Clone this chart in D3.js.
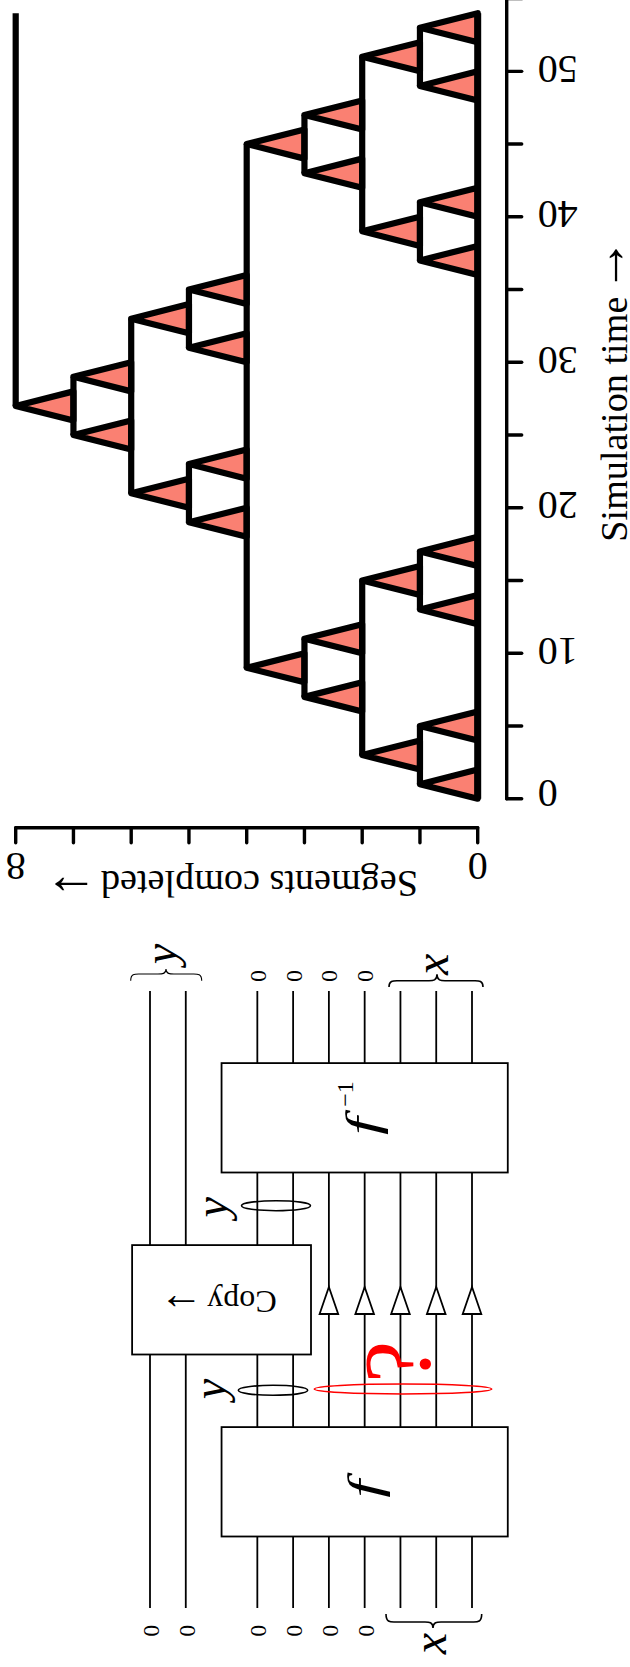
<!DOCTYPE html>
<html>
<head>
<meta charset="utf-8">
<script src="https://cdn.jsdelivr.net/npm/d3@7"></script>
<style>
  html, body { margin: 0; padding: 0; background: #fff; }
  svg { display: block; }
  text { font-family: "Liberation Serif", serif; fill: #000; }
</style>
</head>
<body>
<div id="chart"></div>
<script>
'use strict';

// pebble game: each entry is a triangle [segment reached, time of apex]
var apexSegments = [1, 1, 1, 1, 1, 1, 1, 1, 2, 2, 2, 2, 3, 3, 3, 3, 4, 4, 5, 5, 5, 5, 6, 6, 7, 7, 8];
var apexTimes = [1, 5, 13, 17, 37, 41, 49, 53, 3, 15, 39, 51, 7, 11, 43, 47, 9, 45, 19, 23, 31, 35, 21, 33, 25, 29, 27];

// how long each segment stays stored
var holdSegments = [0, 1, 1, 1, 1, 2, 2, 3, 3, 4, 5, 5, 6, 7, 8];
var holdStart = [0, 1, 13, 37, 49, 3, 39, 7, 43, 9, 19, 31, 21, 25, 27];
var holdEnd = [54, 5, 17, 41, 53, 15, 51, 11, 47, 45, 23, 35, 33, 29, 54];

var timeTicks = [0, 5, 10, 15, 20, 25, 30, 35, 40, 45, 50, 55];
var timeLabels = [0, 10, 20, 30, 40, 50];
var segmentTicks = [0, 1, 2, 3, 4, 5, 6, 7, 8];
var segmentLabels = [0, 8];

// circuit: wire slots, the slot 2 is the gap between the y wires and the rest
var wireSlots = [0, 1, 3, 4, 5, 6, 7, 8, 9];
var arrowSlots = [5, 6, 7, 8, 9];
var zeroTop = [3, 4, 5, 6];
var zeroBottom = [0, 1, 3, 4, 5, 6];
var gateNames = ['f', 'Copy', 'f'];
var gateFrom = [2, -0.5, 2];
var gateTo = [10, 4.5, 10];

var width = 630,
    height = 1667;

var svg = d3.select('#chart').append('svg')
    .attr('width', width)
    .attr('height', height);

svg.append('rect').attr('width', width).attr('height', height).attr('fill', '#fff');

var xScale = d3.scaleLinear().domain([0, 8]).range([477.7, 15.7]);
var yScale = d3.scaleLinear().domain([0, 55]).range([798.7, -1.4]);

var chart = svg.append('g');

var triangles = d3.range(apexTimes.length).map(function (i) {
    return { seg: apexSegments[i], t: apexTimes[i] };
});

chart.selectAll('.tri').data(triangles).enter().append('polygon')
    .attr('class', 'tri')
    .attr('points', function (d) {
        return [[xScale(d.seg), yScale(d.t)], [xScale(d.seg - 1), yScale(d.t - 1)], [xScale(d.seg - 1), yScale(d.t + 1)]].join(' ');
    })
    .attr('fill', '#fa8072')
    .attr('stroke', '#000')
    .attr('stroke-width', 6.2)
    .attr('stroke-linejoin', 'round');

chart.selectAll('.hold').data(holdSegments).enter().append('line')
    .attr('class', 'hold')
    .attr('x1', function (d) { return xScale(d); })
    .attr('x2', function (d) { return xScale(d); })
    .attr('y1', function (d, i) { return yScale(holdStart[i]); })
    .attr('y2', function (d, i) { return yScale(holdEnd[i]); })
    .attr('stroke', '#000')
    .attr('stroke-width', function (d) { return d === 0 ? 7 : 6.2; });

// axes
var yAxis = d3.axisRight(yScale).tickValues(timeTicks).tickSize(15).tickSizeOuter(0).offset(0)
    .tickFormat(function (d) { return timeLabels.includes(d) ? d : ''; });
var yG = svg.append('g').attr('transform', 'translate(506.7,0)').call(yAxis);

var xAxis = d3.axisBottom(xScale).tickValues(segmentTicks).tickSize(15).tickSizeOuter(0).offset(0)
    .tickFormat(function (d) { return segmentLabels.includes(d) ? d : ''; });
var xG = svg.append('g').attr('transform', 'translate(0,827.7)').call(xAxis);

[yG, xG].forEach(function (g) {
    g.selectAll('path, line').attr('stroke', '#000').attr('stroke-width', 3.4).attr('stroke-linecap', 'round');
    g.selectAll('text').attr('font-family', '"Liberation Serif", serif').attr('font-size', 40).attr('fill', '#000').attr('dy', null);
});

yG.selectAll('.tick text')
    .attr('x', null).attr('y', null)
    .attr('text-anchor', 'end')
    .attr('transform', function (d) {
        return 'translate(31,' + (d === 0 ? -18.7 : -15.7) + ') rotate(180)';
    });

xG.selectAll('.tick text')
    .attr('x', null).attr('y', null)
    .attr('text-anchor', 'middle')
    .attr('transform', 'translate(0,25.3) rotate(180)');

function rotated(g, str, x, y, angle, size, anchor, style, stretch) {
    return g.append('text')
        .attr('transform', 'translate(' + x + ',' + y + ') rotate(' + angle + ')' + (stretch ? ' scale(' + stretch + ',1)' : ''))
        .attr('text-anchor', anchor)
        .attr('font-size', size)
        .attr('font-style', style || null)
        .text(str);
}

// axis titles, the arrow comes out small in this font so it gets its own size
rotated(svg, 'Segments completed', 418, 871, 180, 38.2, 'start');
rotated(svg, '\u2192', 44.3, 874.7, 180, 54, 'end');
rotated(svg, 'Simulation time', 626.7, 541.7, -90, 38.2, 'start');
rotated(svg, '\u2192', 625.3, 238.3, -90, 54, 'end');

// circuit
var wireScale = d3.scaleLinear().domain([0, 9]).range([150, 472]);
var layerScale = d3.scaleLinear().domain([0, 2]).range([1481.8, 1117.8]);
var gateHalf = 54.7;
var wireTop = 991,
    wireBottom = 1608;

var circuit = svg.append('g');

circuit.selectAll('.wire').data(wireSlots).enter().append('line')
    .attr('class', 'wire')
    .attr('x1', function (d) { return wireScale(d); })
    .attr('x2', function (d) { return wireScale(d); })
    .attr('y1', wireTop)
    .attr('y2', wireBottom)
    .attr('stroke', '#000')
    .attr('stroke-width', 1.8);

circuit.selectAll('.gate').data(gateNames).enter().append('rect')
    .attr('class', 'gate')
    .attr('x', function (d, i) { return wireScale(gateFrom[i]); })
    .attr('width', function (d, i) { return wireScale(gateTo[i]) - wireScale(gateFrom[i]); })
    .attr('y', function (d, i) { return layerScale(i) - gateHalf; })
    .attr('height', gateHalf * 2)
    .attr('fill', '#fff')
    .attr('stroke', '#000')
    .attr('stroke-width', 1.8);

circuit.selectAll('.head').data(arrowSlots).enter().append('polygon')
    .attr('class', 'head')
    .attr('points', function (d) {
        var x = wireScale(d);
        return [[x, 1287], [x - 9.3, 1314], [x + 9.3, 1314]].join(' ');
    })
    .attr('fill', '#fff')
    .attr('stroke', '#000')
    .attr('stroke-width', 1.8);

function ellipse(cx, cy, rx, color) {
    circuit.append('ellipse')
        .attr('cx', cx).attr('cy', cy).attr('rx', rx).attr('ry', 5)
        .attr('fill', 'none')
        .attr('stroke', color)
        .attr('stroke-width', 1.6);
}
ellipse(276, 1205.7, 34.5, '#000');
ellipse(273, 1390.3, 34.7, '#000');
ellipse(403, 1389, 88.7, '#f00');

function brace(x0, x1, xTip, yEnd, yBody, yTip, sw) {
    var p = d3.path();
    var bend = 8;
    p.moveTo(x0, yEnd);
    p.bezierCurveTo(x0, yBody, x0 + bend / 2, yBody, x0 + bend, yBody);
    p.lineTo(xTip - bend, yBody);
    p.bezierCurveTo(xTip - bend / 2, yBody, xTip, yBody, xTip, yTip);
    p.bezierCurveTo(xTip, yBody, xTip + bend / 2, yBody, xTip + bend, yBody);
    p.lineTo(x1 - bend, yBody);
    p.bezierCurveTo(x1 - bend / 2, yBody, x1, yBody, x1, yEnd);
    circuit.append('path')
        .attr('d', p.toString())
        .attr('fill', 'none')
        .attr('stroke', '#000')
        .attr('stroke-width', sw);
}
brace(130.7, 201.7, 166, 980.7, 974, 969, 1.1);
brace(389, 483, 437, 987, 980.7, 974.3, 1.6);
brace(386, 481.7, 433, 1614, 1622, 1628, 1.6);

zeroTop.forEach(function (s) {
    rotated(circuit, '0', wireScale(s) + 8.6, 976, -90, 24, 'middle');
});
zeroBottom.forEach(function (s) {
    rotated(circuit, '0', wireScale(s) + 8.9, 1630.7, -90, 24, 'middle');
});

rotated(circuit, 'y', 175.7, 954, -90, 46, 'middle', 'italic');
rotated(circuit, 'x', 448.3, 964.3, -90, 48, 'middle', 'italic');
rotated(circuit, 'x', 445.7, 1643.7, -90, 48, 'middle', 'italic');
rotated(circuit, 'y', 226.7, 1207.3, -90, 46, 'middle', 'italic');
rotated(circuit, 'y', 224.7, 1389, -90, 46, 'middle', 'italic');

// f is narrow in this font, the original math italic f is much wider
rotated(circuit, gateNames[0], 379.5, 1488.7, -90, 46, 'middle', 'italic', 1.4);
rotated(circuit, gateNames[2], 377.8, 1126, -90, 46, 'middle', 'italic', 1.4);
rotated(circuit, '\u22121', 353.3, 1106.7, -90, 24, 'start');

rotated(circuit, gateNames[1], 276.7, 1290.7, 180, 32, 'start');
rotated(circuit, '\u2192', 159.3, 1293.6, 180, 44, 'end');

rotated(circuit, '?', 430, 1362, -90, 95, 'middle').style('fill', '#f00');
</script>
</body>
</html>
